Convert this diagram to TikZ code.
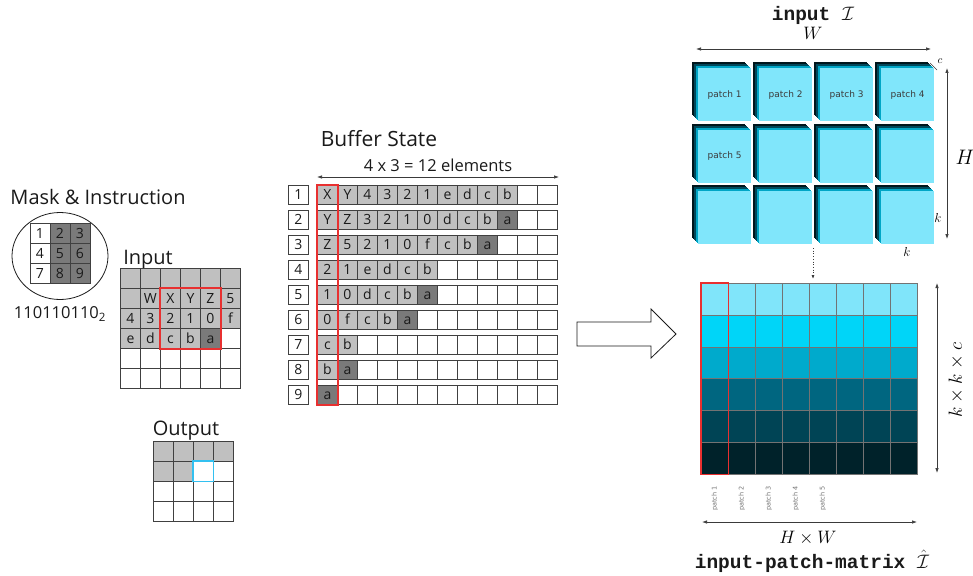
\RequirePackage{fix-cm}
\documentclass[tikz,border=0pt]{standalone}
\usepackage{fontspec}
\setmainfont{Open Sans}
\setmonofont{Liberation Mono}
\newfontfamily\patchfont{DejaVu Sans}
\usetikzlibrary{arrows.meta,shapes.geometric,calc}

\definecolor{ink}{HTML}{1A1A1A}
\definecolor{gridline}{HTML}{404040}
\definecolor{cellLite}{HTML}{C0C0C0}
\definecolor{cellDark}{HTML}{7A7A7A}
\definecolor{markRed}{HTML}{E83030}
\definecolor{markBlue}{HTML}{33C0F0}
\definecolor{faceCyan}{HTML}{80E6FB}
\definecolor{sideBlack}{HTML}{00161C}
\definecolor{sideDeep}{HTML}{00485A}
\definecolor{sideMid}{HTML}{00A6C6}
\definecolor{rowA}{HTML}{80E5FA}
\definecolor{rowB}{HTML}{00D5F8}
\definecolor{rowC}{HTML}{00AACC}
\definecolor{rowD}{HTML}{006680}
\definecolor{rowE}{HTML}{004455}
\definecolor{rowF}{HTML}{00222A}
\definecolor{dimline}{HTML}{3A3A3A}

\begin{document}
\begin{tikzpicture}[x=1pt,y=-1pt,
  lbl/.style={font=\fontsize{#1}{#1}\selectfont, inner sep=0, text=ink},
  cellbox/.style={draw=gridline, line width=0.9pt, minimum width=20pt,
    minimum height=20pt, inner sep=0, anchor=north west, text=ink,
    font=\fontsize{14}{14}\selectfont, text height=10pt, text depth=0pt},
  bufcell/.style={cellbox, minimum height=19pt},
  idxbox/.style={bufcell, fill=white},
  dimarrow/.style={draw=dimline, line width=0.7pt, {Latex[length=5pt,width=3.5pt]}-{Latex[length=5pt,width=3.5pt]}},
  facebox/.style={fill=faceCyan, minimum width=53pt, minimum height=53pt,
    inner sep=0, anchor=north west},
  patchlbl/.style={font=\patchfont\fontsize{9}{9}\selectfont, text=ink!85, inner sep=0},
  collbl/.style={font=\patchfont\fontsize{6.5}{6.5}\selectfont, text=black!55,
    inner sep=0, rotate=90},
  matcell/.style={draw=black!55, line width=0.5pt, minimum width=27pt,
    minimum height=31.83pt, inner sep=0, anchor=north west},
  redframe/.style={draw=markRed, line width=1.3pt}
]
\useasboundingbox (0,0) rectangle (973,575);

% ---------------- mask & instruction ----------------
\node[lbl=20] (masktitle) at (98,197) {Mask \& Instruction};
\node[ellipse, draw=ink, line width=0.8pt, minimum width=96pt,
  minimum height=87pt, inner sep=0] (maskring) at (60,256) {};
\foreach \r in {0,1,2}
  \foreach \c in {0,1,2} {
    \pgfmathtruncatemacro\num{3*\r+\c+1}
    \ifnum\c=0 \def\cellfill{white}\else\def\cellfill{cellDark}\fi
    \node[cellbox, fill=\cellfill] (mask-\r-\c) at (29.5+20*\c, 223+20*\r) {\num};
  }
\node[lbl=16.5] (maskcode) at (60,314) {110110110\textsubscript{2}};

% ---------------- input grid ----------------
\node[lbl=20] (intitle) at (148,260) {Input};
\foreach \row [count=\r from 0] in {
  {{}/cellLite,{}/cellLite,{}/cellLite,{}/cellLite,{}/cellLite,{}/cellLite},
  {{}/cellLite,W/cellLite,X/cellLite,Y/cellLite,Z/cellLite,5/cellLite},
  {4/cellLite,3/cellLite,2/cellLite,1/cellLite,0/cellLite,f/cellLite},
  {e/cellLite,d/cellLite,c/cellLite,b/cellLite,a/cellDark,{}/white},
  {{}/white,{}/white,{}/white,{}/white,{}/white,{}/white},
  {{}/white,{}/white,{}/white,{}/white,{}/white,{}/white}}
  \foreach \t/\f [count=\c from 0] in \row
    \node[cellbox, fill=\f] (in-\r-\c) at (120+20*\c, 268+20*\r) {\t};
\draw[redframe] (in-1-2.north west) rectangle (in-3-4.south east);

% ---------------- output grid ----------------
\node[lbl=20] (outtitle) at (186,431) {Output};
\foreach \row [count=\r from 0] in {
  {cellLite,cellLite,cellLite,cellLite},
  {cellLite,cellLite,white,white},
  {white,white,white,white},
  {white,white,white,white}}
  \foreach \f [count=\c from 0] in \row
    \node[cellbox, fill=\f] (out-\r-\c) at (153+20*\c, 441+20*\r) {};
\draw[draw=markBlue, line width=1.1pt] (out-1-2.north west) rectangle (out-1-2.south east);

% ---------------- buffer state ----------------
\node[lbl=21] (buftitle) at (379,139) {Buffer State};
\node[lbl=16.5] (bufsize) at (438,165) {4 x 3 = 12 elements};
\coordinate (bufL) at (317,177);
\coordinate (bufR) at (559,177);
\draw[dimarrow] (bufL) -- (bufR);
\foreach \row [count=\r] in {
  {X/cellLite,Y/cellLite,4/cellLite,3/cellLite,2/cellLite,1/cellLite,e/cellLite,d/cellLite,c/cellLite,b/cellLite},
  {Y/cellLite,Z/cellLite,3/cellLite,2/cellLite,1/cellLite,0/cellLite,d/cellLite,c/cellLite,b/cellLite,a/cellDark},
  {Z/cellLite,5/cellLite,2/cellLite,1/cellLite,0/cellLite,f/cellLite,c/cellLite,b/cellLite,a/cellDark},
  {2/cellLite,1/cellLite,e/cellLite,d/cellLite,c/cellLite,b/cellLite},
  {1/cellLite,0/cellLite,d/cellLite,c/cellLite,b/cellLite,a/cellDark},
  {0/cellLite,f/cellLite,c/cellLite,b/cellLite,a/cellDark},
  {c/cellLite,b/cellLite},
  {b/cellLite,a/cellDark},
  {a/cellDark}} {
  \node[idxbox] (idx-\r) at (288, 185+25*\r-25) {\r};
  \foreach \c in {1,...,12}
    \node[bufcell, fill=white] (slot-\r-\c) at (297+20*\c, 185+25*\r-25) {};
  \foreach \t/\f [count=\c] in \row
    \node[bufcell, fill=\f] (buf-\r-\c) at (297+20*\c, 185+25*\r-25) {\t};
}
\draw[redframe] (slot-1-1.north west) rectangle (slot-9-1.south east);

% ---------------- transfer arrow ----------------
\draw[draw=ink, line width=0.8pt, fill=white]
  (577,322) -- (651,322) -- (651,309) -- (676,334) -- (651,358)
  -- (651,346) -- (577,346) -- cycle;

% ---------------- input tensor (patches) ----------------
\node[font=\fontsize{19.5}{19.5}\selectfont, inner sep=0, text=ink] (tentitle) at (813,15)
  {\texttt{\bfseries input\ }$\mathcal{I}$};
\node[font=\fontsize{18}{18}\selectfont, inner sep=0] (wlbl) at (813,33) {$W$};
\coordinate (tenL) at (696,49);
\coordinate (tenR) at (931,49);
\draw[dimarrow] (tenL) -- (tenR);
\foreach \i in {0,...,3}
  \foreach \j in {0,1,2} {
    \pgfmathsetmacro\px{692+61*\i}
    \pgfmathsetmacro\py{62+61.5*\j}
    \fill[sideBlack] (\px,\py) rectangle ++(53,53);
    \fill[sideBlack] (\px+1,\py+1) rectangle ++(53,53);
    \fill[sideDeep] (\px+2,\py+2) rectangle ++(53,53);
    \fill[sideDeep] (\px+3,\py+3) rectangle ++(53,53);
    \fill[sideMid] (\px+4,\py+4) rectangle ++(53,53);
    \fill[sideMid] (\px+5,\py+5) rectangle ++(53,53);
    \node[facebox] (patch-\i-\j) at (\px+6,\py+6) {};
  }
\node[patchlbl] at (patch-0-0) {patch 1};
\node[patchlbl] at (patch-1-0) {patch 2};
\node[patchlbl] at (patch-2-0) {patch 3};
\node[patchlbl] at (patch-3-0) {patch 4};
\node[patchlbl] at (patch-0-1) {patch 5};
\coordinate (cA) at (930,63);
\coordinate (cB) at (937,70);
\draw[draw=dimline, line width=0.6pt] (cA) -- (cB);
\node[font=\fontsize{11}{11}\selectfont, inner sep=0] (clbl) at (940,61) {$c$};
\coordinate (tenT) at (947,68);
\coordinate (tenB) at (947,239);
\draw[dimarrow] (tenT) -- (tenB);
\node[font=\fontsize{21}{21}\selectfont, inner sep=0] (hlbl) at (965,157) {$H$};
\node[font=\fontsize{13}{13}\selectfont, inner sep=0] (klblA) at (938,218) {$k$};
\node[font=\fontsize{13}{13}\selectfont, inner sep=0] (klblB) at (907,252) {$k$};

% ---------------- im2col matrix ----------------
\coordinate (dotTop) at (813,248);
\coordinate (dotBot) at (813,279);
\draw[draw=dimline, line width=0.7pt, dotted, -{Latex[length=4pt,width=3pt]}] (dotTop) -- (dotBot);
\foreach \f [count=\r from 0] in {rowA,rowB,rowC,rowD,rowE,rowF}
  \foreach \c in {0,...,7}
    \node[matcell, fill=\f] (mat-\r-\c) at (701+27*\c, 283+31.83*\r) {};
\draw[redframe] (mat-0-0.north west) rectangle (mat-5-0.south east);
\foreach \c [count=\n] in {0,...,4}
  \node[collbl] (col-\n) at ($(mat-5-\c.south)+(0,24)$) {patch \n};
\coordinate (matT) at (937,283);
\coordinate (matB) at (937,473);
\draw[dimarrow] (matT) -- (matB);
\node[font=\fontsize{19}{19}\selectfont, inner sep=0, rotate=90] (kkc) at (956,380) {$k\times k\times c$};
\coordinate (matL) at (702,522);
\coordinate (matR) at (917,522);
\draw[dimarrow] (matL) -- (matR);
\node[font=\fontsize{18}{18}\selectfont, inner sep=0] (hwlbl) at (808,538) {$H\times W$};
\node[font=\fontsize{19.5}{19.5}\selectfont, inner sep=0, text=ink] (mattitle) at (812,561)
  {\texttt{\bfseries input-patch-matrix\ }$\hat{\mathcal{I}}$};
\end{tikzpicture}
\end{document}
